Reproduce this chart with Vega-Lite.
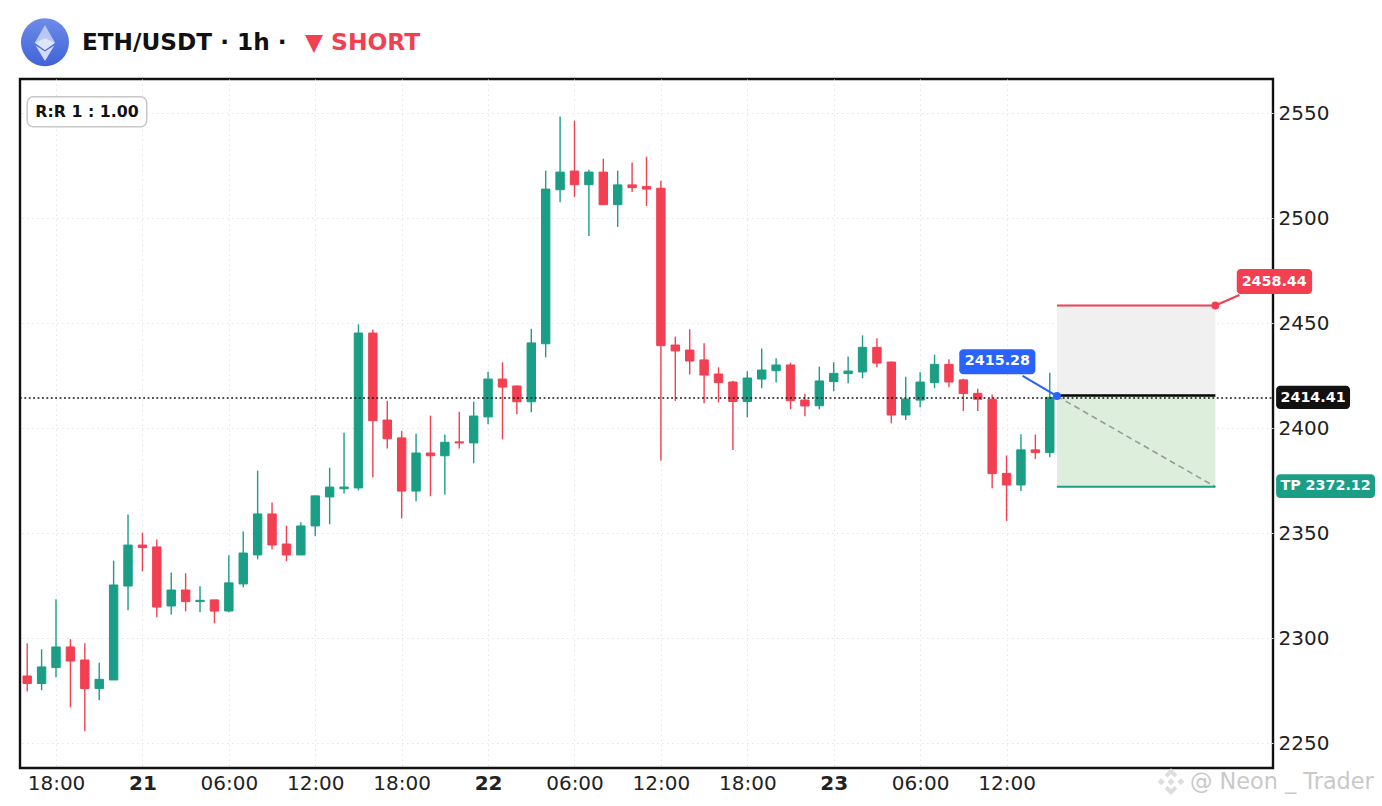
{
"$schema":"https://vega.github.io/schema/vega-lite/v6.json",
"width":1253,"height":689,"autosize":"none",
"padding":{"left":20,"top":79,"right":109,"bottom":38},
"background":"#ffffff",
"config":{"font":"DejaVu Sans","view":{"stroke":"#111111","strokeWidth":2.4}},
"datasets":{
"candles":[
{"time":"2025-06-20T16:00:00Z","open":2282.1,"high":2297.6,"low":2274.7,"close":2278.5},
{"time":"2025-06-20T17:00:00Z","open":2278.5,"high":2294.8,"low":2275.3,"close":2286.4},
{"time":"2025-06-20T18:00:00Z","open":2286.1,"high":2318.6,"low":2281.5,"close":2295.9},
{"time":"2025-06-20T19:00:00Z","open":2295.9,"high":2299.6,"low":2267.2,"close":2289.2},
{"time":"2025-06-20T20:00:00Z","open":2289.7,"high":2297.7,"low":2255.8,"close":2276.1},
{"time":"2025-06-20T21:00:00Z","open":2276.1,"high":2288.4,"low":2270.5,"close":2280.5},
{"time":"2025-06-20T22:00:00Z","open":2280.2,"high":2337.0,"low":2280.2,"close":2325.4},
{"time":"2025-06-20T23:00:00Z","open":2324.9,"high":2359.0,"low":2313.4,"close":2344.4},
{"time":"2025-06-21T00:00:00Z","open":2344.4,"high":2350.3,"low":2331.9,"close":2343.2},
{"time":"2025-06-21T01:00:00Z","open":2343.5,"high":2347.0,"low":2310.0,"close":2314.9},
{"time":"2025-06-21T02:00:00Z","open":2315.4,"high":2331.3,"low":2311.4,"close":2323.0},
{"time":"2025-06-21T03:00:00Z","open":2323.0,"high":2331.0,"low":2312.9,"close":2317.5},
{"time":"2025-06-21T04:00:00Z","open":2317.5,"high":2324.8,"low":2312.4,"close":2318.1},
{"time":"2025-06-21T05:00:00Z","open":2318.3,"high":2318.3,"low":2307.2,"close":2313.0},
{"time":"2025-06-21T06:00:00Z","open":2313.0,"high":2339.5,"low":2312.4,"close":2326.4},
{"time":"2025-06-21T07:00:00Z","open":2325.9,"high":2350.9,"low":2324.3,"close":2340.6},
{"time":"2025-06-21T08:00:00Z","open":2339.7,"high":2379.8,"low":2337.6,"close":2359.2},
{"time":"2025-06-21T09:00:00Z","open":2359.2,"high":2364.6,"low":2342.4,"close":2344.4},
{"time":"2025-06-21T10:00:00Z","open":2344.9,"high":2353.6,"low":2336.7,"close":2339.7},
{"time":"2025-06-21T11:00:00Z","open":2339.7,"high":2355.2,"low":2339.7,"close":2353.5},
{"time":"2025-06-21T12:00:00Z","open":2353.5,"high":2367.9,"low":2348.6,"close":2367.8},
{"time":"2025-06-21T13:00:00Z","open":2367.3,"high":2381.2,"low":2354.3,"close":2372.0},
{"time":"2025-06-21T14:00:00Z","open":2371.2,"high":2397.9,"low":2368.9,"close":2372.0},
{"time":"2025-06-21T15:00:00Z","open":2371.6,"high":2449.4,"low":2370.4,"close":2445.3},
{"time":"2025-06-21T16:00:00Z","open":2445.3,"high":2447.0,"low":2376.6,"close":2403.6},
{"time":"2025-06-21T17:00:00Z","open":2403.9,"high":2413.1,"low":2390.4,"close":2395.0},
{"time":"2025-06-21T18:00:00Z","open":2395.4,"high":2398.7,"low":2357.1,"close":2370.1},
{"time":"2025-06-21T19:00:00Z","open":2370.1,"high":2397.4,"low":2365.2,"close":2388.2},
{"time":"2025-06-21T20:00:00Z","open":2388.2,"high":2406.0,"low":2367.6,"close":2386.9},
{"time":"2025-06-21T21:00:00Z","open":2386.9,"high":2397.0,"low":2368.5,"close":2393.3},
{"time":"2025-06-21T22:00:00Z","open":2393.5,"high":2407.9,"low":2390.4,"close":2393.0},
{"time":"2025-06-21T23:00:00Z","open":2393.0,"high":2412.6,"low":2383.3,"close":2405.8},
{"time":"2025-06-22T00:00:00Z","open":2405.4,"high":2426.9,"low":2401.9,"close":2423.4},
{"time":"2025-06-22T01:00:00Z","open":2423.4,"high":2431.4,"low":2394.7,"close":2419.6},
{"time":"2025-06-22T02:00:00Z","open":2420.1,"high":2420.3,"low":2406.6,"close":2412.6},
{"time":"2025-06-22T03:00:00Z","open":2412.6,"high":2447.4,"low":2407.6,"close":2440.6},
{"time":"2025-06-22T04:00:00Z","open":2440.2,"high":2522.6,"low":2433.7,"close":2513.8},
{"time":"2025-06-22T05:00:00Z","open":2513.5,"high":2548.3,"low":2507.6,"close":2521.9},
{"time":"2025-06-22T06:00:00Z","open":2522.4,"high":2546.4,"low":2510.0,"close":2515.9},
{"time":"2025-06-22T07:00:00Z","open":2515.9,"high":2523.0,"low":2491.5,"close":2521.9},
{"time":"2025-06-22T08:00:00Z","open":2521.9,"high":2528.3,"low":2506.4,"close":2506.4},
{"time":"2025-06-22T09:00:00Z","open":2506.4,"high":2522.6,"low":2495.8,"close":2515.8},
{"time":"2025-06-22T10:00:00Z","open":2515.8,"high":2526.5,"low":2512.4,"close":2514.5},
{"time":"2025-06-22T11:00:00Z","open":2515.0,"high":2529.2,"low":2505.8,"close":2513.8},
{"time":"2025-06-22T12:00:00Z","open":2514.2,"high":2517.8,"low":2384.7,"close":2439.3},
{"time":"2025-06-22T13:00:00Z","open":2439.6,"high":2443.6,"low":2413.0,"close":2436.8},
{"time":"2025-06-22T14:00:00Z","open":2437.2,"high":2447.1,"low":2425.6,"close":2432.0},
{"time":"2025-06-22T15:00:00Z","open":2432.5,"high":2440.4,"low":2411.9,"close":2425.3},
{"time":"2025-06-22T16:00:00Z","open":2425.8,"high":2429.0,"low":2412.3,"close":2421.7},
{"time":"2025-06-22T17:00:00Z","open":2422.0,"high":2422.6,"low":2389.6,"close":2412.7},
{"time":"2025-06-22T18:00:00Z","open":2412.7,"high":2427.1,"low":2405.2,"close":2423.9},
{"time":"2025-06-22T19:00:00Z","open":2423.4,"high":2438.0,"low":2419.0,"close":2427.7},
{"time":"2025-06-22T20:00:00Z","open":2427.4,"high":2433.3,"low":2421.8,"close":2430.1},
{"time":"2025-06-22T21:00:00Z","open":2430.1,"high":2431.2,"low":2409.0,"close":2413.1},
{"time":"2025-06-22T22:00:00Z","open":2413.4,"high":2416.4,"low":2405.7,"close":2410.6},
{"time":"2025-06-22T23:00:00Z","open":2410.7,"high":2429.3,"low":2409.0,"close":2422.5},
{"time":"2025-06-23T00:00:00Z","open":2422.2,"high":2431.4,"low":2417.6,"close":2426.1},
{"time":"2025-06-23T01:00:00Z","open":2426.0,"high":2434.1,"low":2421.4,"close":2427.2},
{"time":"2025-06-23T02:00:00Z","open":2426.8,"high":2444.2,"low":2423.8,"close":2438.5},
{"time":"2025-06-23T03:00:00Z","open":2438.5,"high":2442.8,"low":2429.0,"close":2431.0},
{"time":"2025-06-23T04:00:00Z","open":2431.5,"high":2431.7,"low":2402.3,"close":2406.3},
{"time":"2025-06-23T05:00:00Z","open":2406.3,"high":2424.5,"low":2403.9,"close":2413.9},
{"time":"2025-06-23T06:00:00Z","open":2413.4,"high":2426.6,"low":2410.0,"close":2422.0},
{"time":"2025-06-23T07:00:00Z","open":2421.8,"high":2435.0,"low":2419.0,"close":2430.4},
{"time":"2025-06-23T08:00:00Z","open":2430.4,"high":2432.8,"low":2419.5,"close":2422.0},
{"time":"2025-06-23T09:00:00Z","open":2423.0,"high":2423.6,"low":2408.2,"close":2416.5},
{"time":"2025-06-23T10:00:00Z","open":2416.6,"high":2418.8,"low":2408.2,"close":2413.8},
{"time":"2025-06-23T11:00:00Z","open":2413.8,"high":2416.1,"low":2371.4,"close":2378.4},
{"time":"2025-06-23T12:00:00Z","open":2378.5,"high":2387.0,"low":2355.9,"close":2373.0},
{"time":"2025-06-23T13:00:00Z","open":2373.0,"high":2397.1,"low":2370.1,"close":2389.7},
{"time":"2025-06-23T14:00:00Z","open":2389.7,"high":2397.0,"low":2385.4,"close":2388.4},
{"time":"2025-06-23T15:00:00Z","open":2388.4,"high":2426.4,"low":2386.2,"close":2414.7}
],
"zones":[
{"kind":"risk","time":"2025-06-23T15:30:00Z","time2":"2025-06-24T02:30:00Z","price":2415.28,"price2":2458.44},
{"kind":"reward","time":"2025-06-23T15:30:00Z","time2":"2025-06-24T02:30:00Z","price":2372.12,"price2":2415.28}
],
"levels":[
{"kind":"sl","time":"2025-06-23T15:30:00Z","time2":"2025-06-24T02:30:00Z","price":2458.44,"price2":2458.44},
{"kind":"tp","time":"2025-06-23T15:30:00Z","time2":"2025-06-24T02:30:00Z","price":2372.12,"price2":2372.12},
{"kind":"sl","time":"2025-06-24T02:30:00Z","time2":"2025-06-24T04:10:00Z","price":2458.44,"price2":2463.4},
{"kind":"entry","time":"2025-06-23T13:07:00Z","time2":"2025-06-23T15:30:00Z","price":2424.9,"price2":2415.28}
],
"entryline":[
{"time":"2025-06-23T15:30:00Z","time2":"2025-06-24T02:30:00Z","price":2415.6,"price2":2415.6}
],
"diagonal":[
{"time":"2025-06-23T15:30:00Z","time2":"2025-06-24T02:30:00Z","price":2415.28,"price2":2372.12}
],
"lastprice":[
{"time":"2025-06-20T15:30:00Z","time2":"2025-06-24T06:30:00Z","price":2414.41,"price2":2414.41}
],
"dots":[
{"kind":"entry","time":"2025-06-23T15:30:00Z","price":2415.28},
{"kind":"sl","time":"2025-06-24T02:30:00Z","price":2458.44}
],
"boxes":[
{"kind":"entry","time":"2025-06-23T08:43:00Z","time2":"2025-06-23T14:00:00Z","price":2425.7,"price2":2437.6},
{"kind":"sl","time":"2025-06-24T03:59:00Z","time2":"2025-06-24T09:13:00Z","price":2463.9,"price2":2475.8},
{"kind":"last","time":"2025-06-24T06:43:00Z","time2":"2025-06-24T11:51:00Z","price":2409.2,"price2":2420.2},
{"kind":"tp","time":"2025-06-24T06:43:00Z","time2":"2025-06-24T13:35:00Z","price":2366.8,"price2":2378.1}
],
"boxlabels":[
{"label":"2415.28","time":"2025-06-23T11:22:00Z","price":2431.8},
{"label":"2458.44","time":"2025-06-24T06:35:00Z","price":2469.8},
{"label":"2414.41","time":"2025-06-24T09:17:00Z","price":2414.41},
{"label":"TP 2372.12","time":"2025-06-24T10:09:00Z","price":2372.3}
],
"rrbox":[
{"time":"2025-06-20T16:00:00Z","time2":"2025-06-21T00:18:00Z","price":2543.5,"price2":2557.8}
],
"notes":[
{"kind":"rr","label":"R:R 1 : 1.00","time":"2025-06-20T20:09:00Z","price":2550.6},
{"kind":"symbol","label":"ETH/USDT · 1h ·","time":"2025-06-20T19:48:00Z","price":2583.4},
{"kind":"side","label":"▼ SHORT","time":"2025-06-21T11:17:00Z","price":2583.4},
{"kind":"mark","label":"@ Neon _ Trader","time":"2025-06-24T00:44:00Z","price":2231.7}
],
"logo":[{"time":"2025-06-20T17:14:00Z","price":2583.7}],
"markicon":[{"time":"2025-06-23T23:25:00Z","price":2231.8}]
},
"encoding":{
"x":{"field":"time","type":"temporal","title":null,
"scale":{"type":"utc","nice":false,"padding":0,"domain":[{"utc":true,"year":2025,"month":6,"date":20,"hours":15,"minutes":30},{"utc":true,"year":2025,"month":6,"date":24,"hours":6,"minutes":30}]},
"axis":{"orient":"bottom","domain":false,"ticks":false,"labelPadding":5,"labelFontSize":20,"labelColor":"#222222","labelFont":"DejaVu Sans","labelFlush":false,"labelOverlap":false,"labelBound":false,
"grid":true,"gridColor":"#e4e4e4","gridDash":[1.5,3.5],"gridWidth":1,
"labelFontWeight":{"condition":{"test":"utchours(datum.value)==0","value":"bold"},"value":"normal"},
"labelExpr":"utchours(datum.value)==0?utcFormat(datum.value,'%-d'):utcFormat(datum.value,'%H:%M')",
"values":[
{"utc":true,"year":2025,"month":6,"date":20,"hours":18},
{"utc":true,"year":2025,"month":6,"date":21,"hours":0},
{"utc":true,"year":2025,"month":6,"date":21,"hours":6},
{"utc":true,"year":2025,"month":6,"date":21,"hours":12},
{"utc":true,"year":2025,"month":6,"date":21,"hours":18},
{"utc":true,"year":2025,"month":6,"date":22,"hours":0},
{"utc":true,"year":2025,"month":6,"date":22,"hours":6},
{"utc":true,"year":2025,"month":6,"date":22,"hours":12},
{"utc":true,"year":2025,"month":6,"date":22,"hours":18},
{"utc":true,"year":2025,"month":6,"date":23,"hours":0},
{"utc":true,"year":2025,"month":6,"date":23,"hours":6},
{"utc":true,"year":2025,"month":6,"date":23,"hours":12}
]}},
"y":{"field":"price","type":"quantitative","title":null,
"scale":{"nice":false,"zero":false,"padding":0,"domain":[2238.3,2566.2]},
"axis":{"orient":"right","domain":false,"ticks":false,"labelPadding":5,"labelFontSize":20,"labelColor":"#222222","labelFont":"DejaVu Sans","labelBound":false,"labelFlush":false,"labelOverlap":false,
"grid":true,"gridColor":"#e4e4e4","gridDash":[1.5,3.5],"gridWidth":1,"format":"d","values":[2250,2300,2350,2400,2450,2500,2550]}}
},
"layer":[
{"data":{"name":"zones","format":{"parse":{"time2":"date"}}},"mark":{"type":"rect","opacity":1},
 "encoding":{"x2":{"field":"time2"},"y2":{"field":"price2"},"color":{"field":"kind","type":"nominal","legend":null,"scale":{"domain":["risk","reward"],"range":["#f0f0f0","#ddeedd"]}}}},
{"data":{"name":"candles"},"mark":{"type":"rule","strokeWidth":1.4},
 "encoding":{"y":{"field":"low","type":"quantitative","title":null,"axis":{"orient":"right","domain":false,"ticks":false,"labelPadding":5,"labelFontSize":20,"labelColor":"#222222","labelFont":"DejaVu Sans","labelBound":false,"labelFlush":false,"labelOverlap":false,"grid":true,"gridColor":"#e4e4e4","gridDash":[1.5,3.5],"gridWidth":1,"format":"d","values":[2250,2300,2350,2400,2450,2500,2550]},"scale":{"nice":false,"zero":false,"padding":0,"domain":[2238.3,2566.2]}},"y2":{"field":"high"},
 "stroke":{"condition":{"test":"datum.close>=datum.open","value":"#1a9e85"},"value":"#f23f52"}}},
{"data":{"name":"candles"},"mark":{"type":"bar","size":8.4,"strokeWidth":1},
 "encoding":{"y":{"field":"open","type":"quantitative","title":null,"axis":{"orient":"right","domain":false,"ticks":false,"labelPadding":5,"labelFontSize":20,"labelColor":"#222222","labelFont":"DejaVu Sans","labelBound":false,"labelFlush":false,"labelOverlap":false,"grid":true,"gridColor":"#e4e4e4","gridDash":[1.5,3.5],"gridWidth":1,"format":"d","values":[2250,2300,2350,2400,2450,2500,2550]},"scale":{"nice":false,"zero":false,"padding":0,"domain":[2238.3,2566.2]}},"y2":{"field":"close"},
 "fill":{"condition":{"test":"datum.close>=datum.open","value":"#1a9e85"},"value":"#f23f52"},
 "stroke":{"condition":{"test":"datum.close>=datum.open","value":"#1a9e85"},"value":"#f23f52"}}},
{"data":{"name":"lastprice","format":{"parse":{"time2":"date"}}},"mark":{"type":"rule","stroke":"#111111","strokeWidth":1.6,"strokeDash":[1.8,2.6]},
 "encoding":{"x2":{"field":"time2"},"y2":{"field":"price2"}}},
{"data":{"name":"diagonal","format":{"parse":{"time2":"date"}}},"mark":{"type":"rule","stroke":"#999999","strokeWidth":1.6,"strokeDash":[6,4]},
 "encoding":{"x2":{"field":"time2"},"y2":{"field":"price2"}}},
{"data":{"name":"entryline","format":{"parse":{"time2":"date"}}},"mark":{"type":"rule","stroke":"#000000","strokeWidth":2.6},
 "encoding":{"x2":{"field":"time2"},"y2":{"field":"price2"}}},
{"data":{"name":"levels","format":{"parse":{"time2":"date"}}},"mark":{"type":"rule","strokeWidth":2.1},
 "encoding":{"x2":{"field":"time2"},"y2":{"field":"price2"},"stroke":{"field":"kind","type":"nominal","legend":null,"scale":{"domain":["sl","tp","entry","last"],"range":["#f23f52","#1a9e85","#2962ff","#111111"]}}}},
{"data":{"name":"dots"},"mark":{"type":"point","filled":true,"size":64,"opacity":1},
 "encoding":{"fill":{"field":"kind","type":"nominal","legend":null,"scale":{"domain":["sl","tp","entry","last"],"range":["#f23f52","#1a9e85","#2962ff","#111111"]}}}},
{"data":{"name":"boxes","format":{"parse":{"time2":"date"}}},"mark":{"type":"rect","cornerRadius":4},
 "encoding":{"x2":{"field":"time2"},"y2":{"field":"price2"},"fill":{"field":"kind","type":"nominal","legend":null,"scale":{"domain":["sl","tp","entry","last"],"range":["#f23f52","#1a9e85","#2962ff","#111111"]}}}},
{"data":{"name":"boxlabels"},"mark":{"type":"text","font":"DejaVu Sans","fontWeight":"bold","fontSize":14.3,"color":"#ffffff","align":"center","baseline":"middle"},
 "encoding":{"text":{"field":"label"}}},
{"data":{"name":"rrbox","format":{"parse":{"time2":"date"}}},"mark":{"type":"rect","cornerRadius":6,"fill":"#ffffff","stroke":"#c8c8c8","strokeWidth":1.5},
 "encoding":{"x2":{"field":"time2"},"y2":{"field":"price2"}}},
{"data":{"name":"notes"},"transform":[{"filter":"datum.kind=='rr'"}],"mark":{"type":"text","font":"DejaVu Sans","fontWeight":"bold","fontSize":15.8,"color":"#111111","align":"center","baseline":"middle"},
 "encoding":{"text":{"field":"label"}}},
{"data":{"name":"notes"},"transform":[{"filter":"datum.kind=='symbol'"}],"mark":{"type":"text","font":"DejaVu Sans","fontWeight":"bold","fontSize":23.2,"color":"#111111","align":"left","baseline":"middle"},
 "encoding":{"text":{"field":"label"}}},
{"data":{"name":"notes"},"transform":[{"filter":"datum.kind=='side'"}],"mark":{"type":"text","font":"DejaVu Sans","fontWeight":"bold","fontSize":23.4,"color":"#f23f52","align":"left","baseline":"middle"},
 "encoding":{"text":{"field":"label"}}},
{"data":{"name":"notes"},"transform":[{"filter":"datum.kind=='mark'"}],"mark":{"type":"text","font":"DejaVu Sans","fontSize":22.4,"color":"#c9c9c9","align":"left","baseline":"middle"},
 "encoding":{"text":{"field":"label"}}},
{"data":{"name":"logo"},"mark":{"type":"point","shape":"circle","size":2304,"filled":true,"opacity":1,"fill":{"gradient":"linear","x1":0,"y1":0,"x2":0,"y2":1,"stops":[{"offset":0,"color":"#6f8ce8"},{"offset":1,"color":"#3f62d9"}]}}},
{"data":{"name":"logo"},"mark":{"type":"point","shape":"M0,-.72L-.42,.02L0,.32L.42,.02Z","size":2304,"filled":true,"opacity":1,"fill":"#b9c7f5"}},
{"data":{"name":"logo"},"mark":{"type":"point","shape":"M-.42,.02L0,-.17L.42,.02L0,.32Z","size":2304,"filled":true,"opacity":1,"fill":"#dde4fb"}},
{"data":{"name":"logo"},"mark":{"type":"point","shape":"M-.39,.14L0,.39L.39,.14L0,.78Z","size":2304,"filled":true,"opacity":1,"fill":"#d4dcf9"}},
{"data":{"name":"markicon"},"mark":{"type":"point","shape":"M0,-.95L.45,-.5L.25,-.3L0,-.55L-.25,-.3L-.45,-.5Z M0,.95L.45,.5L.25,.3L0,.55L-.25,.3L-.45,.5Z M-.95,0L-.7,-.25L-.45,0L-.7,.25Z M.95,0L.7,-.25L.45,0L.7,.25Z M0,-.25L.25,0L0,.25L-.25,0Z","size":784,"filled":true,"opacity":1,"fill":"#dddddd"}}
]
}
